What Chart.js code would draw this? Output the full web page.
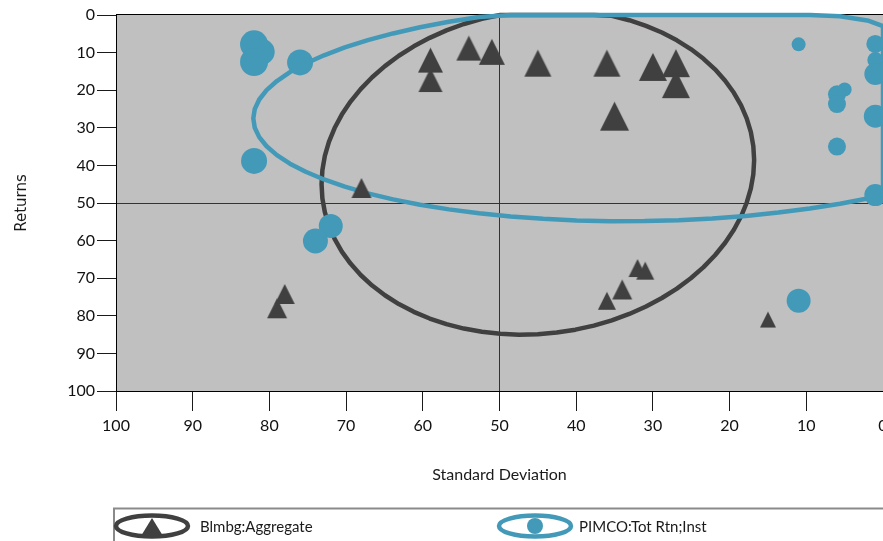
<!DOCTYPE html>
<html><head><meta charset="utf-8">
<script src="https://cdn.jsdelivr.net/npm/chart.js@4.4.1/dist/chart.umd.min.js"></script>
<style>
html,body{margin:0;padding:0;overflow:hidden;background:#fff;width:883px;height:541px}
#wrap{position:absolute;left:0;top:0;width:960px;height:541px}
</style></head><body><div id="wrap"><canvas id="c"></canvas></div>
<script>
// ---- data ----
const tickValues = [0,10,20,30,40,50,60,70,80,90,100];
const xTitle = 'Standard Deviation';
const yTitle = 'Returns';
const seriesNames = ['Blmbg:Aggregate', 'PIMCO:Tot Rtn;Inst'];

const aggStdDev  = [59, 59, 54, 51, 45, 36, 30, 27, 27, 35, 68, 78, 79, 36, 34, 32, 31, 15];
const aggReturns = [12, 17.3, 8.8, 9.8, 12.8, 12.8, 13.8, 12.8, 18.4, 26.9, 46, 74.2, 78, 76, 73, 67.3, 68, 81];

const pimcoStdDev  = [82, 81, 82, 76, 82, 72, 74, 11, 1, 1, 1, 5, 6, 6, 1, 6, 1, 11];
const pimcoReturns = [7.8, 9.8, 12.5, 12.6, 38.8, 56.1, 60.1, 7.8, 7.7, 12, 15.7, 19.8, 21.1, 23.7, 26.9, 35, 47.9, 76];

// ellipses: [centre stdDev, centre return, axis-A stdDev, axis-A return, axis-B return]
const aggEllipse   = [45, 41.8, 28.2, 3.2, 43.1];
const pimcoEllipse = [31.1, 26, 51, 1.5, 28.8];

// ---- styles ----
const aggColor = '#404041';
const pimcoColor = '#4399b8';
const aggMarkerSize = [25, 24, 25, 26, 27, 27, 28, 28, 28, 29, 20, 20, 20, 18, 20, 18, 18, 16];
const pimcoMarkerRadius = [14, 13, 14, 13, 13, 12, 12.5, 7, 9, 8, 11, 7, 9, 9, 11.5, 9, 11, 12];

function triangleImage(size, color) {
  const c = document.createElement('canvas');
  const w = size, h = size;
  c.width = Math.ceil(w) + 2; c.height = Math.ceil(h) + 2;
  const g = c.getContext('2d');
  g.fillStyle = color;
  g.beginPath();
  g.moveTo(1, h + 1); g.lineTo(w / 2 + 1, 1); g.lineTo(w + 1, h + 1); g.closePath();
  g.fill();
  return c;
}
const triImages = aggMarkerSize.map(s => triangleImage(s, aggColor));

const clamp = v => Math.max(0, Math.min(100, v));
function drawEllipse(chart, e, color, width) {
  const [cx, cy, ax, ay, by] = e;
  const ctx = chart.ctx, xs = chart.scales.x, ys = chart.scales.y;
  ctx.save();
  ctx.beginPath();
  const N = 72;
  for (let i = 0; i <= N; i++) {
    const t = i / N * 2 * Math.PI;
    const X = clamp(cx + ax * Math.cos(t));
    const Y = clamp(cy + ay * Math.cos(t) + by * Math.sin(t));
    const px = xs.getPixelForValue(X), py = ys.getPixelForValue(Y);
    if (i === 0) ctx.moveTo(px, py); else ctx.lineTo(px, py);
  }
  ctx.closePath();
  ctx.lineWidth = width; ctx.strokeStyle = color; ctx.lineJoin = 'round';
  ctx.stroke();
  ctx.restore();
}

const decor = {
  id: 'decor',
  beforeDraw(chart) {
    const {ctx, chartArea: a} = chart;
    ctx.save();
    ctx.fillStyle = '#c0c0c0';
    ctx.fillRect(a.left, a.top, a.right - a.left, a.bottom - a.top);
    ctx.restore();
  },
  beforeDatasetsDraw(chart) {
    const {ctx, chartArea: a} = chart;
    ctx.save();
    ctx.strokeStyle = '#000'; ctx.lineWidth = 1;
    ctx.beginPath(); ctx.moveTo(a.left, a.top - 0.5); ctx.lineTo(a.right, a.top - 0.5); ctx.stroke();
    ctx.restore();
    drawEllipse(chart, aggEllipse, aggColor, 4.5);
    drawEllipse(chart, pimcoEllipse, pimcoColor, 4.5);
  },
  afterDraw(chart) {
    const ctx = chart.ctx;
    ctx.save();
    ctx.strokeStyle = '#8a8a8a'; ctx.lineWidth = 2;
    ctx.beginPath(); ctx.moveTo(114, 545); ctx.lineTo(114, 508.5); ctx.lineTo(chart.width, 508.5); ctx.stroke();
    const iconY = 526;
    ctx.lineWidth = 4.5;
    ctx.strokeStyle = aggColor;
    ctx.beginPath(); ctx.ellipse(152, iconY, 36, 10.5, 0, 0, Math.PI * 2); ctx.stroke();
    ctx.fillStyle = aggColor;
    ctx.beginPath(); ctx.moveTo(141, iconY + 10); ctx.lineTo(152, iconY - 8); ctx.lineTo(163, iconY + 10); ctx.closePath(); ctx.fill();
    ctx.strokeStyle = pimcoColor;
    ctx.beginPath(); ctx.ellipse(535, iconY, 36, 10.5, 0, 0, Math.PI * 2); ctx.stroke();
    ctx.fillStyle = pimcoColor;
    ctx.beginPath(); ctx.arc(535, iconY, 8, 0, Math.PI * 2); ctx.fill();
    ctx.fillStyle = '#1a1a1a';
    ctx.font = '15px Lato';
    ctx.textBaseline = 'middle';
    ctx.fillText(chart.data.datasets[0].label, 200, iconY + 1);
    ctx.fillText(chart.data.datasets[1].label, 579, iconY + 1);
    ctx.restore();
  }
};

const gridColor = c => (c.tick && c.tick.value === 50) ? '#333' : 'rgba(0,0,0,0)';

new Chart(document.getElementById('c'), {
  type: 'scatter',
  data: {
    datasets: [
      {
        label: seriesNames[0],
        data: aggStdDev.map((x, i) => ({x, y: aggReturns[i]})),
        pointStyle: c => triImages[c.dataIndex],
        backgroundColor: aggColor,
        borderWidth: 0,
        clip: false
      },
      {
        label: seriesNames[1],
        data: pimcoStdDev.map((x, i) => ({x, y: pimcoReturns[i]})),
        pointStyle: 'circle',
        pointRadius: c => pimcoMarkerRadius[c.dataIndex],
        backgroundColor: pimcoColor,
        borderWidth: 0,
        clip: false
      }
    ]
  },
  options: {
    responsive: true,
    maintainAspectRatio: false,
    animation: false,
    devicePixelRatio: 1,
    layout: {padding: {left: 9, top: 15, right: 77, bottom: 55}},
    plugins: {legend: {display: false}, tooltip: {enabled: false}},
    scales: {
      x: {
        type: 'linear', reverse: true, min: 0, max: 100,
        afterBuildTicks: s => { s.ticks = tickValues.map(v => ({value: v})); },
        afterFit: s => { s.height = 95; },
        grid: {color: gridColor, tickColor: '#1a1a1a', tickLength: 20, lineWidth: 1},
        border: {display: true, color: '#000', width: 1},
        ticks: {color: '#111', font: {family: 'Lato', size: 16}, padding: 5, maxRotation: 0, autoSkip: false},
        title: {display: true, text: xTitle, color: '#1a1a1a', font: {family: 'Lato', size: 16}, padding: {top: 2, bottom: 2}}
      },
      y: {
        type: 'linear', reverse: true, min: 0, max: 100,
        afterBuildTicks: s => { s.ticks = tickValues.map(v => ({value: v})); },
        afterFit: s => { s.width = 107; },
        grid: {color: gridColor, tickColor: '#1a1a1a', tickLength: 19, lineWidth: 1},
        border: {display: true, color: '#000', width: 1},
        ticks: {color: '#111', font: {family: 'Lato', size: 16}, padding: 2, autoSkip: false},
        title: {display: true, text: yTitle, color: '#1a1a1a', font: {family: 'DejaVu Sans', size: 15}, padding: {top: 4, bottom: 2}}
      }
    }
  },
  plugins: [decor]
});
</script></body></html>
